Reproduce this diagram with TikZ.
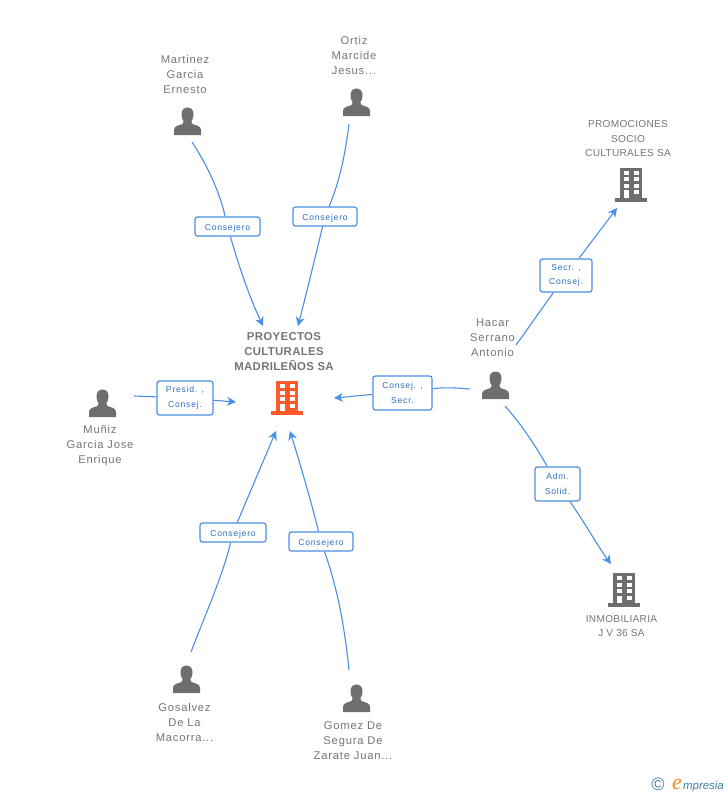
\documentclass[tikz,border=0pt]{standalone}
\usepackage{fontspec}
\setmainfont{Liberation Sans}
\newfontfamily\lblfont[LetterSpace=9]{Liberation Sans}
\newfontfamily\txtfont[LetterSpace=7]{Liberation Sans}
\newfontfamily\smfont[LetterSpace=3]{Liberation Sans}
\newfontfamily\bdfont[LetterSpace=3]{Liberation Sans}
\newfontfamily\logofont{Liberation Serif}
\usetikzlibrary{arrows.meta}
\definecolor{linkblue}{HTML}{4A8FE6}
\definecolor{labblue}{HTML}{2F6FC4}
\definecolor{txtgray}{HTML}{757575}
\definecolor{icongray}{HTML}{6E6E6E}
\definecolor{coreorange}{HTML}{FF5A2B}
\definecolor{logoblue}{HTML}{3F7F9F}
\definecolor{logoorange}{HTML}{F28A1E}
\tikzset{
  x=1bp,y=-1bp,
  link/.style={draw=linkblue,line width=1.1bp},
  arr/.style={link,-{Stealth[length=9bp,width=9bp]}},
  lab/.style={draw=linkblue,line width=1.2bp,rounded corners=2.5bp,fill=white,text=labblue,
    font=\lblfont\fontsize{8.6bp}{14.6bp}\selectfont,align=center,inner sep=0pt,minimum height=19bp,
    execute at begin node={\rule{0pt}{10.5bp}}},
  txt/.style={text=txtgray,font=\txtfont\fontsize{11.2bp}{15bp}\selectfont,align=center,inner sep=0pt},
  smalltxt/.style={text=txtgray,font=\smfont\fontsize{10.1bp}{14.5bp}\selectfont,align=center,inner sep=0pt},
  persona/.style={inner sep=0pt,minimum width=30bp,minimum height=30bp,
    path picture={\begin{scope}[shift={(path picture bounding box.center)}]
      \fill[icongray] (-13.5,14) -- (-13.5,9) .. controls (-13.5,5) and (-9,4.5) .. (-5,3) .. controls (-4,2.5) and (-3.6,1.5) .. (-3.8,0.5)
        .. controls (-5.5,-1.5) and (-6,-4) .. (-6,-7) .. controls (-6,-11) and (-3.5,-13.5) .. (0,-13.5)
        .. controls (3.5,-13.5) and (6,-11) .. (6,-7) .. controls (6,-4) and (5.5,-1.5) .. (3.8,0.5)
        .. controls (3.6,1.5) and (4,2.5) .. (5,3) .. controls (9,4.5) and (13.5,5) .. (13.5,9) -- (13.5,14) -- cycle;
    \end{scope}}},
  building/.style={inner sep=0pt,minimum width=34bp,minimum height=36bp,
    path picture={\begin{scope}[shift={(path picture bounding box.center)}]
      \fill[#1] (-11,-17) rectangle (11,13);
      \fill[#1] (-16,13) rectangle (16,17);
      \foreach \yy in {-14,-7.5,-1} {
        \fill[white] (-7.5,\yy) rectangle (-2.5,\yy+4);
        \fill[white] (2.5,\yy) rectangle (7.5,\yy+4);
      }
      \fill[white] (-7.5,5.5) rectangle (-2.5,13);
      \fill[white] (2.5,5.5) rectangle (7.5,9.5);
    \end{scope}}},
}
\begin{document}
\begin{tikzpicture}
\useasboundingbox (0,0) rectangle (728,795);
% connector free ends
\coordinate (e1) at (192,142);
\coordinate (e2) at (349,124);
\coordinate (e3) at (134,396);
\coordinate (e4) at (470,389);
\coordinate (e5) at (516,345);
\coordinate (e6) at (505,406);
\coordinate (e7) at (191,652);
\coordinate (e8) at (349,670);
\coordinate (t1) at (263,326);
\coordinate (t2) at (298,326);
\coordinate (t3) at (236,402);
\coordinate (t4) at (334,398);
\coordinate (t5) at (617,208);
\coordinate (t6) at (611,564);
\coordinate (t7) at (276,431);
\coordinate (t8) at (290,431);
% actors
\node[persona] (martinez) at (187.5,121) {};
\node[persona] (ortiz) at (356.5,102) {};
\node[persona] (muniz) at (102.5,403) {};
\node[persona] (hacar) at (495.5,385) {};
\node[persona] (gosalvez) at (186.5,679) {};
\node[persona] (gomez) at (356.5,698) {};
\node[building=coreorange] (core) at (287,398) {};
\node[building=icongray] (promo) at (631,184.5) {};
\node[building=icongray] (inmo) at (624,590) {};
% texts
\node[txt] (tmartinez) at (185,74) {Martinez\\Garcia\\Ernesto};
\node[txt] (tortiz) at (354,55) {Ortiz\\Marcide\\Jesus...};
\node[txt] (tmuniz) at (100,446) {Muñiz\\Garcia Jose\\Enrique};
\node[txt] (thacar) at (492.5,338) {Hacar\\Serrano\\Antonio};
\node[txt] (tgosalvez) at (184.5,722) {Gosalvez\\De La\\Macorra...};
\node[txt] (tgomez) at (353,741) {Gomez De\\Segura De\\Zarate Juan...};
\node[smalltxt] (tpromo) at (628,139) {PROMOCIONES\\SOCIO\\CULTURALES SA};
\node[smalltxt] (tinmo) at (621.5,626) {INMOBILIARIA\\J V 36 SA};
\node[text=txtgray,font=\bdfont\bfseries\fontsize{11.4bp}{15bp}\selectfont,align=center,inner sep=0pt] (tcore) at (284,351.5) {PROYECTOS\\CULTURALES\\MADRILEÑOS SA};
% edge labels
\node[lab,minimum width=65bp] (l1) at (227.5,226.5) {Consejero};
\node[lab,minimum width=64bp] (l2) at (325,216.5) {Consejero};
\node[lab,minimum width=56bp,minimum height=34bp] (l3) at (185,398) {Presid. ,\\Consej.};
\node[lab,minimum width=59bp,minimum height=34bp] (l4) at (402.5,393) {Consej. ,\\Secr.};
\node[lab,minimum width=52bp,minimum height=33bp] (l5) at (566,275.5) {Secr. ,\\Consej.};
\node[lab,minimum width=45bp,minimum height=34bp] (l6) at (557.5,484) {Adm.\\Solid.};
\node[lab,minimum width=66bp] (l7) at (233,532.5) {Consejero};
\node[lab,minimum width=64bp] (l8) at (321,541.5) {Consejero};
% connectors
\draw[link] (e1) .. controls (207,165) and (219,190) .. (l1);
\draw[arr] (l1) .. controls (240,270) and (250,298) .. (t1);
\draw[link] (e2) .. controls (345,155) and (340,180) .. (l2);
\draw[arr] (l2) .. controls (314,262) and (306,295) .. (t2);
\draw[link] (e3) -- (l3);
\draw[arr] (l3) -- (t3);
\draw[link] (e4) .. controls (457,388) and (445,387) .. (l4);
\draw[arr] (l4) .. controls (362,395) and (348,397) .. (t4);
\draw[link] (e5) .. controls (525,333) and (532,322) .. (l5);
\draw[arr] (l5) -- (t5);
\draw[link] (e6) .. controls (520,423) and (532,440) .. (l6);
\draw[arr] (l6) .. controls (585,523) and (597,545) .. (t6);
\draw[link] (e7) .. controls (205,615) and (222,578) .. (l7);
\draw[arr] (l7) -- (t7);
\draw[link] (e8) .. controls (345,630) and (338,590) .. (l8);
\draw[arr] (l8) .. controls (312,505) and (302,470) .. (t8);
% logo
\node[inner sep=0pt,text=logoblue,font=\fontsize{18bp}{18bp}\selectfont] (copyr) at (658,784) {©};
\node[anchor=base west,inner sep=0pt,text=logoorange,font=\logofont\itshape\fontsize{22bp}{22bp}\selectfont] (logoe) at (672,789.5) {e};
\node[anchor=base west,inner sep=0pt,text=logoblue,font=\itshape\fontsize{11.4bp}{14bp}\selectfont] (logot) at (683,789) {mpresia};
\end{tikzpicture}
\end{document}
